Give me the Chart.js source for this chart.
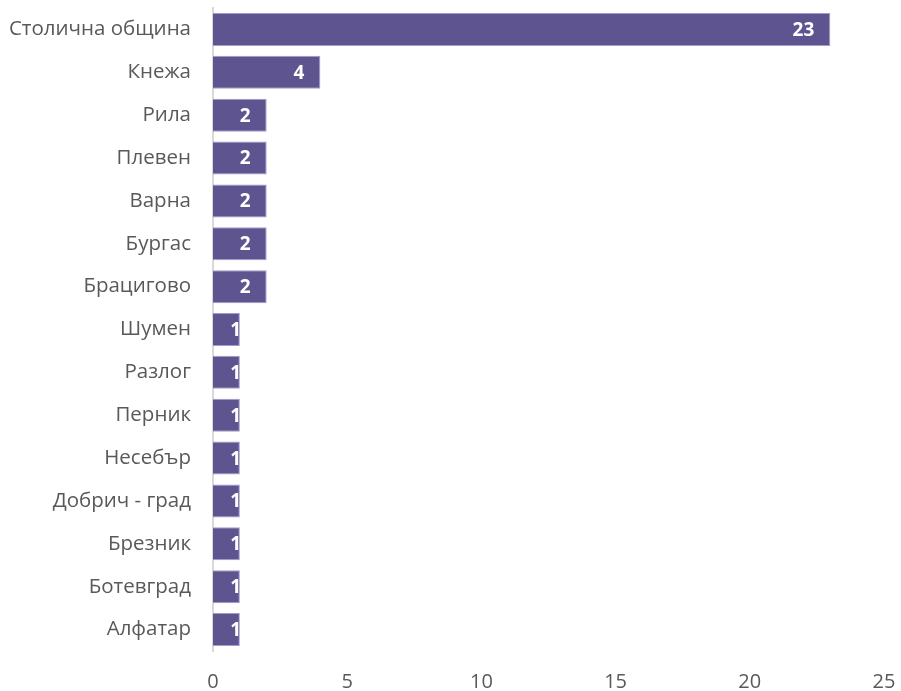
<!DOCTYPE html>
<html>
<head>
<meta charset="utf-8">
<script src="https://cdn.jsdelivr.net/npm/chart.js@4"></script>
<style>
  html, body { margin: 0; padding: 0; background: #fff; }
  #wrap { width: 901px; height: 691px; }
</style>
</head>
<body>
<div id="wrap"><canvas id="myChart"></canvas></div>
<script>
var towns = ['Столична община', 'Кнежа', 'Рила', 'Плевен', 'Варна', 'Бургас', 'Брацигово',
  'Шумен', 'Разлог', 'Перник', 'Несебър', 'Добрич - град', 'Брезник', 'Ботевград', 'Алфатар'];
var counts = [23, 4, 2, 2, 2, 2, 2, 1, 1, 1, 1, 1, 1, 1, 1];
var xTicks = [0, 5, 10, 15, 20, 25];

// white value labels at the end of each bar, clipped to the bar
const barLabels = {
  id: 'barLabels',
  afterDatasetsDraw(chart) {
    const ctx = chart.ctx;
    const meta = chart.getDatasetMeta(0);
    ctx.save();
    ctx.font = 'bold 19px "Open Sans"';
    ctx.fillStyle = '#ffffff';
    ctx.textAlign = 'right';
    ctx.textBaseline = 'middle';
    meta.data.forEach((bar, i) => {
      const p = bar.getProps(['x', 'y', 'base', 'height'], true);
      ctx.save();
      ctx.beginPath();
      ctx.rect(p.base, p.y - p.height / 2, p.x - p.base, p.height);
      ctx.clip();
      const right = Math.max(p.x - 16, p.base + 28);
      ctx.fillText(String(counts[i]), right, p.y + 1);
      ctx.restore();
    });
    ctx.restore();
  }
};

function noPad(scale) {
  scale.paddingTop = 0;
  scale.paddingBottom = 0;
  scale.paddingLeft = 0;
  scale.paddingRight = 0;
}

const data = {
  labels: towns,
  datasets: [{
    data: counts,
    backgroundColor: '#5e548f',
    borderColor: '#a49bcc',
    borderWidth: 1,
    barPercentage: 0.77,
    categoryPercentage: 1
  }]
};

const config = {
  type: 'bar',
  data: data,
  options: {
    indexAxis: 'y',
    responsive: true,
    maintainAspectRatio: false,
    animation: false,
    layout: { padding: { top: 8, right: 17, left: 0, bottom: 0 } },
    plugins: { legend: { display: false }, tooltip: { enabled: false } },
    scales: {
      x: {
        min: 0,
        max: 25,
        afterBuildTicks: (scale) => { scale.ticks = xTicks.map(v => ({ value: v })); },
        afterFit: (scale) => { scale.height = 40; noPad(scale); },
        grid: { display: false, drawTicks: false },
        border: { display: false },
        ticks: { color: '#595959', font: { family: 'Open Sans', size: 20 }, padding: 19, maxRotation: 0 }
      },
      y: {
        afterFit: (scale) => { scale.width = 213; noPad(scale); },
        grid: { display: false, drawTicks: false },
        border: { display: true, color: '#d9d9d9', width: 2 },
        ticks: { color: '#595959', font: { family: 'Open Sans', size: 20.5 }, padding: 22, autoSkip: false }
      }
    }
  },
  plugins: [barLabels]
};

const myChart = new Chart(document.getElementById('myChart'), config);
</script>
</body>
</html>
